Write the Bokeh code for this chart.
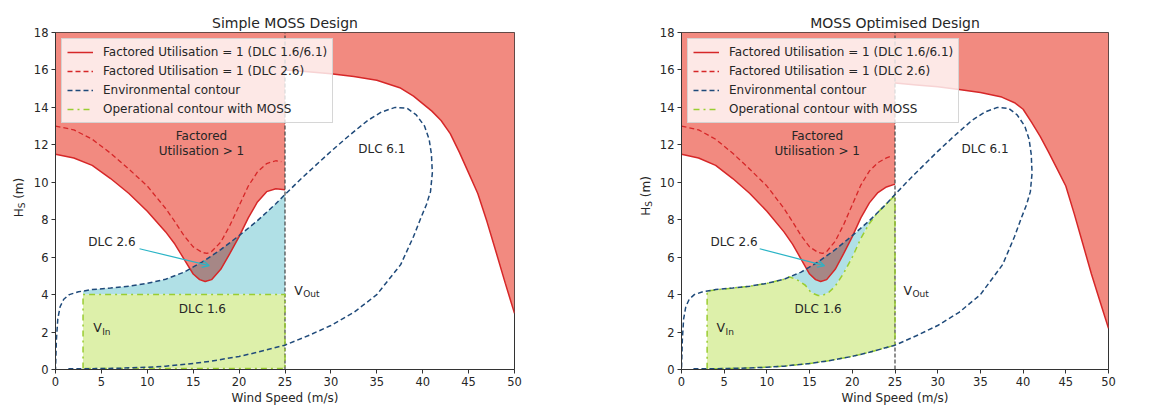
import numpy as np
from bokeh.plotting import figure
from bokeh.layouts import row
from bokeh.models import Label, Legend, LegendItem, Arrow, OpenHead, FixedTicker, Range1d
from bokeh.embed import file_html
from bokeh.resources import INLINE

# ---------------- data ----------------
x_ticks = list(range(0, 51, 5))
y_ticks = list(range(0, 19, 2))
titles = ["Simple MOSS Design", "MOSS Optimised Design"]
legend_labels = ["Factored Utilisation = 1 (DLC 1.6/6.1)",
                 "Factored Utilisation = 1 (DLC 2.6)",
                 "Environmental contour",
                 "Operational contour with MOSS"]

# environmental contour (upper branch, left -> right; lower branch, right -> left)
env_upper_x = [0.0, 0.1, 0.25, 0.5, 0.9, 1.5, 2.5, 4, 6, 8, 10, 12, 14, 16, 18, 20, 22, 24, 25,
               27, 30, 32, 34, 35.5, 37, 38.3, 39.3, 40.2, 40.7, 40.95, 41.05]
env_upper_y = [0.0, 1.6, 2.7, 3.35, 3.75, 4.0, 4.15, 4.27, 4.35, 4.45, 4.6, 4.82, 5.2, 5.75, 6.4,
               7.15, 7.95, 8.85, 9.35, 10.3, 11.65, 12.5, 13.3, 13.75, 14.0, 13.95, 13.6, 13.0,
               12.3, 11.5, 10.5]
env_lower_x = [41.05, 40.85, 40.4, 39.8, 39.0, 37.6, 35.0, 32.5, 30.0, 27.5, 25.0, 22.0, 20.0,
               17.0, 15.0, 12.0, 10.0, 7.0, 5.0, 3.0, 1.4]
env_lower_y = [10.5, 9.5, 8.8, 8.1, 7.1, 5.6, 4.0, 3.05, 2.35, 1.8, 1.3, 0.92, 0.7, 0.45, 0.32,
               0.18, 0.12, 0.07, 0.05, 0.04, 0.04]

# factored utilisation = 1 (DLC 1.6/6.1), below and above cut-out
fu_left_x = [0, 2, 4, 6, 8, 10, 12, 13, 14, 15, 15.7, 16.3, 17, 18, 19, 20, 21, 22, 23, 24, 25]
fu_left_simple = [11.5, 11.3, 10.9, 10.2, 9.4, 8.45, 7.35, 6.7, 5.9, 5.1, 4.8, 4.7, 4.8, 5.35,
                  6.2, 7.1, 8.1, 8.95, 9.5, 9.65, 9.6]
fu_left_opt = [11.5, 11.3, 10.9, 10.2, 9.4, 8.45, 7.35, 6.7, 5.9, 5.1, 4.8, 4.7, 4.8, 5.35,
               6.2, 7.1, 8.1, 8.9, 9.45, 9.75, 9.9]
fu_right_x = [25, 27.5, 30, 32.5, 35, 37.5, 39, 40, 41, 42, 43, 44, 45, 46, 47, 48, 49, 50]
fu_right_simple = [16.0, 15.9, 15.8, 15.65, 15.45, 15.05, 14.6, 14.2, 13.8, 13.3, 12.6, 11.6,
                   10.5, 9.4, 7.9, 6.26, 4.6, 3.0]
fu_right_opt = [15.3, 15.2, 15.1, 14.95, 14.8, 14.55, 14.25, 13.9, 13.2, 12.45, 11.6, 10.7,
                9.8, 8.3, 6.7, 5.1, 3.65, 2.2]

# factored utilisation = 1 (DLC 2.6)
dlc26_x = [0, 2, 4, 6, 8, 10, 12, 13, 14, 15, 16, 16.5, 17, 18, 19, 20, 21, 22, 23, 24, 24.6]
dlc26_simple = [13.0, 12.8, 12.3, 11.55, 10.7, 9.8, 8.6, 7.9, 7.15, 6.55, 6.25, 6.2, 6.3, 6.8,
                7.7, 8.75, 9.8, 10.55, 11.0, 11.15, 11.1]
dlc26_opt = [13.0, 12.8, 12.3, 11.55, 10.7, 9.8, 8.6, 7.9, 7.15, 6.55, 6.25, 6.2, 6.3, 6.85,
             7.75, 8.8, 9.85, 10.6, 11.05, 11.3, 11.4]

# operational contours
v_in = 3.0
v_out = 25.0
op_simple_top = 4.0
op_simple_bottom = 0.05
op_opt_x = [3, 5, 8, 10, 12, 12.6, 13.5, 14.5, 15.2, 16, 16.5, 17.2, 18, 19, 20, 21, 22, 23,
            24, 25]
op_opt_y = [4.2, 4.3, 4.45, 4.6, 4.82, 4.95, 4.8, 4.5, 4.1, 3.95, 3.95, 4.1, 4.45, 5.15, 6.0,
            7.0, 7.8, 8.4, 8.85, 9.3]

# annotation positions (data units)
txt_factored = (15.9, 12.47, 11.68)
txt_dlc61 = (35.55, 11.77)
txt_dlc26 = (6.15, 6.83)
txt_dlc16 = (16.0, 3.25)
txt_vout = (26.0, 4.22)
txt_vin = (4.1, 2.22)
arrow_26 = (9.15, 6.45, 16.75, 5.55)

# ---------------- styles ----------------
FONT = "DejaVu Sans"
TXT = "#262626"
RED = "#D62728"
RED_FILL = "#F28A80"
OVERLAP = "#A68786"
CYAN = "#B0E0E6"
GREEN_FILL = "#DDF0AA"
GREEN = "#9ACD32"
BLUE = "#1F4A7A"
ARROW = "#2AB4C6"
FIG_H = 413


def ylabel_fig(width, cx, cy):
    """narrow strip holding the rotated y-axis title H_S (m)"""
    q = figure(width=width, height=FIG_H, x_range=Range1d(0, width),
               y_range=Range1d(0, FIG_H), x_axis_type=None, y_axis_type=None,
               output_backend="svg", toolbar_location=None, min_border=0)
    q.grid.visible = False
    q.outline_line_color = None

    def lab(t, size, dx, dy):
        q.add_layout(Label(x=cx, y=cy, text=t, x_offset=dx, y_offset=dy, angle=np.pi / 2,
                           text_font=FONT, text_font_size=size, text_color=TXT,
                           text_align="left", text_baseline="middle"))
    lab("H", "12px", 0, -20)
    lab("S", "9px", 3, -11)
    lab("(m)", "12px", 0, -1.5)
    return q


def make_fig(idx, fu_l, fu_r, d26, optimised, width, mbl, mbr, mbt, mbb):
    p = figure(width=width, height=FIG_H, x_range=Range1d(0, 50), y_range=Range1d(0, 18),
               output_backend="svg", toolbar_location=None,
               min_border_left=mbl, min_border_right=mbr, min_border_top=mbt,
               min_border_bottom=mbb)
    p.title.text = titles[idx]
    p.title.text_font = FONT
    p.title.text_font_size = "14px"
    p.title.text_font_style = "normal"
    p.title.text_color = TXT
    p.title.align = "center"
    p.title.standoff = 3
    p.grid.visible = False
    p.outline_line_color = "#333333"
    p.outline_line_width = 1
    p.xaxis.ticker = FixedTicker(ticks=x_ticks)
    p.yaxis.ticker = FixedTicker(ticks=y_ticks)
    for ax in (p.xaxis[0], p.yaxis[0]):
        ax.major_label_text_font = FONT
        ax.major_label_text_font_size = "11.5px"
        ax.major_label_text_color = TXT
        ax.axis_line_color = "#333333"
        ax.major_tick_line_color = "#333333"
        ax.major_tick_out = 4
        ax.major_tick_in = 0
        ax.minor_tick_out = 0
        ax.minor_tick_in = 0
        ax.major_label_standoff = 3
    p.xaxis.axis_label = "Wind Speed (m/s)"
    p.xaxis.axis_label_text_font = FONT
    p.xaxis.axis_label_text_font_size = "12px"
    p.xaxis.axis_label_text_font_style = "normal"
    p.xaxis.axis_label_text_color = TXT
    p.xaxis.axis_label_standoff = 2

    xs = np.linspace(v_in, v_out, 300)
    env_up = np.interp(xs, env_upper_x, env_upper_y)
    env_lo = np.interp(xs, env_lower_x[::-1], env_lower_y[::-1])

    if not optimised:
        p.varea(x=xs, y1=op_simple_top, y2=np.maximum(env_up, op_simple_top),
                fill_color=CYAN)
        p.varea(x=[v_in, v_out], y1=[op_simple_bottom] * 2, y2=[op_simple_top] * 2,
                fill_color=GREEN_FILL)
    else:
        op_top = np.interp(xs, op_opt_x, op_opt_y)
        p.varea(x=xs, y1=op_top, y2=np.maximum(env_up, op_top), fill_color=CYAN)
        p.varea(x=xs, y1=env_lo, y2=op_top, fill_color=GREEN_FILL)

    # region of factored utilisation > 1
    p.varea(x=fu_left_x, y1=fu_l, y2=18, fill_color=RED_FILL)
    p.varea(x=fu_right_x, y1=fu_r, y2=18, fill_color=RED_FILL)
    xo = np.linspace(10, 24, 400)
    fu_i = np.interp(xo, fu_left_x, fu_l)
    env_i = np.interp(xo, env_upper_x, env_upper_y)
    p.varea(x=xo, y1=fu_i, y2=np.maximum(fu_i, env_i), fill_color=OVERLAP)

    # lines
    r_fu = p.line(fu_left_x, fu_l, line_color=RED, line_width=1.5)
    p.line(fu_right_x, fu_r, line_color=RED, line_width=1.5)
    r_26 = p.line(dlc26_x, d26, line_color=RED, line_width=1.3, line_dash="5 3")
    env_x = list(reversed(env_lower_x)) + list(reversed(env_upper_x))
    env_y = list(reversed(env_lower_y)) + list(reversed(env_upper_y))
    p.line([v_out, v_out], [0, 18], line_color="#444444", line_width=1.2, line_dash="4 2")
    if not optimised:
        ox = [v_in, v_in, v_out, v_out, v_in]
        oy = [op_simple_bottom, op_simple_top, op_simple_top, op_simple_bottom,
              op_simple_bottom]
    else:
        ox = ([v_in] + list(op_opt_x) + [v_out] + list(xs[::-1]))
        oy = ([float(env_lo[0])] + list(op_opt_y) + [float(env_lo[-1])] +
              list(env_lo[::-1]))
    r_op = p.line(ox, oy, line_color=GREEN, line_width=1.5, line_dash="dashdot")
    r_env = p.line(env_x, env_y, line_color=BLUE, line_width=1.5, line_dash="5 3")

    legend = Legend(items=[LegendItem(label=legend_labels[0], renderers=[r_fu]),
                           LegendItem(label=legend_labels[1], renderers=[r_26]),
                           LegendItem(label=legend_labels[2], renderers=[r_env]),
                           LegendItem(label=legend_labels[3], renderers=[r_op])],
                    location="top_left", margin=6, padding=5, spacing=3,
                    label_height=16, glyph_height=16, glyph_width=26, label_standoff=10,
                    label_text_font=FONT, label_text_font_size="12px",
                    label_text_color=TXT,
                    background_fill_color="white", background_fill_alpha=0.8,
                    border_line_color="#cccccc", border_line_alpha=0.8)
    p.add_layout(legend)

    def lab(x, y, t, size="12px", align="center", dx=0, dy=0):
        p.add_layout(Label(x=x, y=y, text=t, x_offset=dx, y_offset=dy,
                           text_font=FONT, text_font_size=size, text_color=TXT,
                           text_align=align, text_baseline="middle"))

    lab(txt_factored[0], txt_factored[1], "Factored")
    lab(txt_factored[0], txt_factored[2], "Utilisation > 1")
    lab(txt_dlc61[0], txt_dlc61[1], "DLC 6.1")
    lab(txt_dlc26[0], txt_dlc26[1], "DLC 2.6")
    lab(txt_dlc16[0], txt_dlc16[1], "DLC 1.6")
    lab(txt_vout[0], txt_vout[1], "V", size="12.5px", align="left")
    lab(txt_vout[0], txt_vout[1], "Out", size="9px", align="left", dx=9, dy=-4)
    lab(txt_vin[0], txt_vin[1], "V", size="12.5px", align="left")
    lab(txt_vin[0], txt_vin[1], "In", size="9px", align="left", dx=9, dy=-4)

    p.add_layout(Arrow(end=OpenHead(size=7, line_color=ARROW, line_width=1.2),
                       x_start=arrow_26[0], y_start=arrow_26[1],
                       x_end=arrow_26[2], y_end=arrow_26[3],
                       line_color=ARROW, line_width=1.2))
    return p


q1 = ylabel_fig(30, 18, FIG_H - 202)
p1 = make_fig(0, fu_left_simple, fu_right_simple, dlc26_simple, False,
              width=604, mbl=24, mbr=120, mbt=28, mbb=41)
q2 = ylabel_fig(22, 11, FIG_H - 200)
p2 = make_fig(1, fu_left_opt, fu_right_opt, dlc26_opt, True,
              width=482, mbl=22, mbr=30, mbt=32, mbb=44)

layout = row(q1, p1, q2, p2)
open("out.html", "w").write(file_html(layout, INLINE))
